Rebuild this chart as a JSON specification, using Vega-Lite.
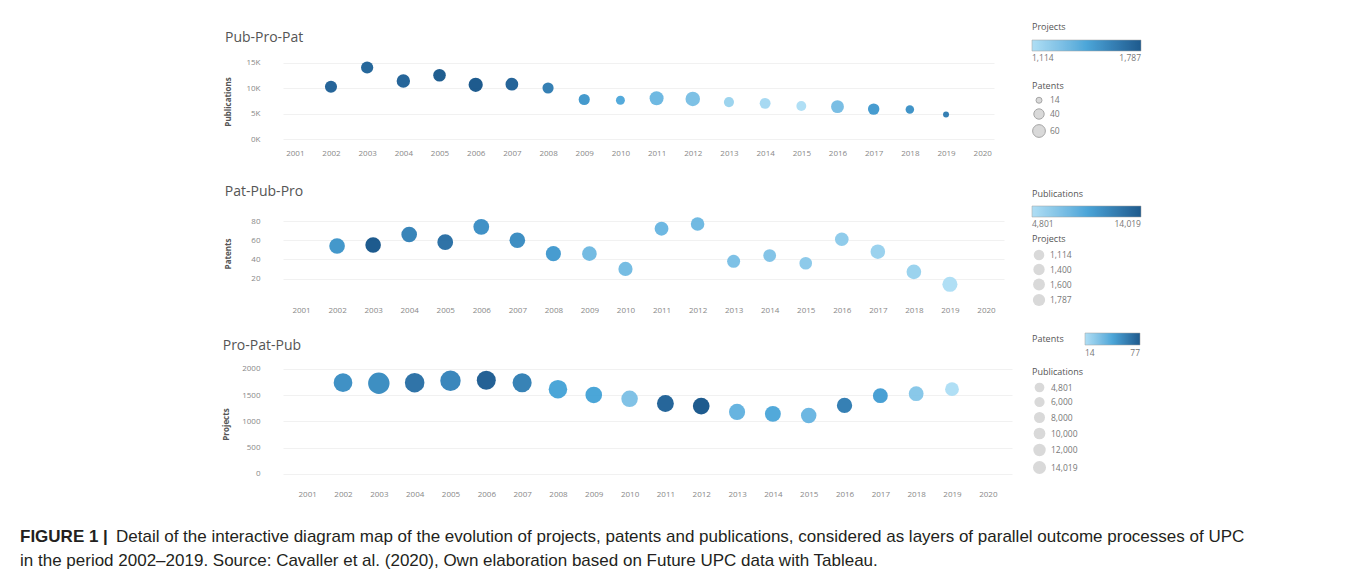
{
  "$schema": "https://vega.github.io/schema/vega-lite/v6.json",
  "padding": {"left": 20, "top": 23, "right": 10, "bottom": 10},
  "background": "white",
  "bounds": "flush",
  "spacing": 58,
  "resolve": {"scale": {"color": "independent", "size": "independent", "x": "independent", "y": "independent"}, "legend": {"color": "independent", "size": "independent"}},
  "datasets": {
    "d": [
      {"year": 2002, "Publications": 10240, "Patents": 54, "Projects": 1739},
      {"year": 2003, "Publications": 14019, "Patents": 55, "Projects": 1728},
      {"year": 2004, "Publications": 11370, "Patents": 66, "Projects": 1739},
      {"year": 2005, "Publications": 12500, "Patents": 58, "Projects": 1776},
      {"year": 2006, "Publications": 10620, "Patents": 74, "Projects": 1787},
      {"year": 2007, "Publications": 10750, "Patents": 60, "Projects": 1739},
      {"year": 2008, "Publications": 10000, "Patents": 46, "Projects": 1616},
      {"year": 2009, "Publications": 7740, "Patents": 46, "Projects": 1505},
      {"year": 2010, "Publications": 7600, "Patents": 30, "Projects": 1431},
      {"year": 2011, "Publications": 7990, "Patents": 72, "Projects": 1343},
      {"year": 2012, "Publications": 7860, "Patents": 77, "Projects": 1293},
      {"year": 2013, "Publications": 7240, "Patents": 38, "Projects": 1182},
      {"year": 2014, "Publications": 6990, "Patents": 44, "Projects": 1145},
      {"year": 2015, "Publications": 6480, "Patents": 36, "Projects": 1114},
      {"year": 2016, "Publications": 6350, "Patents": 61, "Projects": 1306},
      {"year": 2017, "Publications": 5860, "Patents": 48, "Projects": 1492},
      {"year": 2018, "Publications": 5800, "Patents": 27, "Projects": 1530},
      {"year": 2019, "Publications": 4801, "Patents": 14, "Projects": 1616}
    ]
  },
  "title": {
    "text": "FIGURE 1 |",
    "subtitle": [
      "\u2800\u2800\u2800\u2800\u2800\u2800\u2800\u2800Detail of the interactive diagram map of the evolution of projects, patents and publications, considered as layers of parallel outcome processes of UPC",
      "in the period 2002\u20132019. Source: Cavaller et al. (2020), Own elaboration based on Future UPC data with Tableau."
    ],
    "orient": "bottom",
    "anchor": "start",
    "frame": "group",
    "dx": -263,
    "offset": 31,
    "font": "Liberation Sans",
    "fontSize": 17,
    "fontWeight": "bold",
    "color": "#231f20",
    "subtitleFont": "Liberation Sans",
    "subtitleFontSize": 17,
    "subtitleFontWeight": "normal",
    "subtitleColor": "#231f20",
    "subtitlePadding": -17,
    "subtitleLineHeight": 24
  },
  "config": {
    "view": {"stroke": null},
    "font": "Open Sans",
    "axis": {
      "labelFont": "Open Sans",
      "labelFontSize": 8,
      "labelColor": "#888888",
      "ticks": false,
      "domain": false,
      "titleFont": "Open Sans",
      "titleFontSize": 8,
      "titleFontWeight": "bold",
      "titleColor": "#555555"
    },
    "axisX": {"grid": false, "labelAngle": 0, "labelPadding": 3, "title": null},
    "axisY": {"grid": true, "gridColor": "#f1f1f1", "labelPadding": 23},
    "legend": {
      "titleFont": "Open Sans",
      "titleFontSize": 9,
      "titleFontWeight": "normal",
      "titleColor": "#555555",
      "labelFont": "Open Sans",
      "labelFontSize": 8.5,
      "labelColor": "#777777",
      "padding": 0,
      "gradientStrokeColor": "#9a9a9a",
      "gradientStrokeWidth": 0.5,
      "symbolFillColor": "#d9d9d9",
      "symbolStrokeColor": "#a6a6a6",
      "symbolStrokeWidth": 1,
      "symbolOpacity": 1
    }
  },
  "vconcat": [
    {
      "data": {"name": "d"},
      "title": {"text": "Pub-Pro-Pat", "anchor": "start", "frame": "bounds", "fontSize": 14, "fontWeight": "normal", "color": "#555555", "offset": -22, "font": "Open Sans"},
      "width": 711,
      "height": 89,
      "mark": {"type": "circle", "opacity": 0.92},
      "encoding": {
        "x": {"field": "year", "type": "ordinal", "scale": {"domain": [2001,2002,2003,2004,2005,2006,2007,2008,2009,2010,2011,2012,2013,2014,2015,2016,2017,2018,2019,2020], "padding": 0.326}},
        "y": {"field": "Publications", "type": "quantitative", "scale": {"domain": [-1370, 16080], "nice": false, "zero": false}, "axis": {"values": [0, 5000, 10000, 15000], "labelExpr": "format(datum.value/1000, 'd') + 'K'", "title": "Publications", "titlePadding": 13}},
        "color": {"field": "Projects", "type": "quantitative", "scale": {"domain": [1114, 1450.5, 1787], "range": ["#a9dcf4", "#3d9fd6", "#0b4d84"]}, "legend": {"orient": "none", "legendX": 749, "legendY": -34, "direction": "horizontal", "titlePadding": 8, "gradientLength": 109, "gradientThickness": 11, "labelOffset": 3, "values": [1114, 1787], "labelExpr": "format(datum.value, ',')"}},
        "size": {"field": "Patents", "type": "quantitative", "scale": {"domain": [14, 77], "range": [36, 210]}, "legend": {"orient": "none", "legendX": 749, "legendY": 25, "rowPadding": 0, "values": [14, 40, 60]}}
      }
    },
    {
      "data": {"name": "d"},
      "title": {"text": "Pat-Pub-Pro", "anchor": "start", "frame": "bounds", "fontSize": 14, "fontWeight": "normal", "color": "#555555", "offset": -9, "font": "Open Sans"},
      "width": 721,
      "height": 99,
      "encoding": {
        "x": {"field": "year", "type": "ordinal", "scale": {"domain": [2001,2002,2003,2004,2005,2006,2007,2008,2009,2010,2011,2012,2013,2014,2015,2016,2017,2018,2019,2020], "padding": 0.5}},
        "y": {"field": "Patents", "type": "quantitative", "scale": {"domain": [-5.5, 97.8], "nice": false, "zero": false}, "axis": {"values": [20, 40, 60, 80], "title": "Patents", "titlePadding": 18}}
      },
      "layer": [
        {
          "mark": {"type": "circle", "opacity": 0.92},
          "encoding": {
            "color": {"field": "Publications", "type": "quantitative", "scale": {"domain": [4801, 9410, 14019], "range": ["#a9dcf4", "#3d9fd6", "#0b4d84"]}, "legend": {"orient": "none", "legendX": 749, "legendY": -14, "direction": "horizontal", "titlePadding": 7, "gradientLength": 109, "gradientThickness": 11, "labelOffset": 3, "values": [4801, 14019], "labelExpr": "format(datum.value, ',')"}},
            "size": {"field": "Projects", "type": "quantitative", "scale": {"domain": [1114, 1787], "range": [160, 250]}, "legend": null}
          }
        },
        {
          "mark": {"type": "circle", "opacity": 0, "color": "#d9d9d9", "stroke": "#a6a6a6", "strokeWidth": 1},
          "encoding": {
            "size": {"field": "Projects", "type": "quantitative", "scale": {"domain": [1114, 1787], "range": [112, 150]}, "legend": {"orient": "none", "legendX": 749, "legendY": 31, "rowPadding": -2, "values": [1114, 1400, 1600, 1787], "labelExpr": "format(datum.value, ',')"}}
          }
        }
      ],
      "resolve": {"scale": {"size": "independent"}, "legend": {"size": "independent"}}
    },
    {
      "data": {"name": "d"},
      "title": {"text": "Pro-Pat-Pub", "anchor": "start", "frame": "bounds", "fontSize": 14, "fontWeight": "normal", "color": "#555555", "offset": -20, "font": "Open Sans"},
      "width": 729,
      "height": 126,
      "encoding": {
        "x": {"field": "year", "type": "ordinal", "scale": {"domain": [2001,2002,2003,2004,2005,2006,2007,2008,2009,2010,2011,2012,2013,2014,2015,2016,2017,2018,2019,2020], "padding": 0.675}},
        "y": {"field": "Projects", "type": "quantitative", "scale": {"domain": [-248, 2152], "nice": false, "zero": false}, "axis": {"values": [0, 500, 1000, 1500, 2000], "format": "d", "title": "Projects", "titlePadding": 11}}
      },
      "layer": [
        {
          "mark": {"type": "circle", "opacity": 0.92},
          "encoding": {
            "color": {"field": "Patents", "type": "quantitative", "scale": {"domain": [14, 45.5, 77], "range": ["#a9dcf4", "#3d9fd6", "#0b4d84"]}, "legend": {"orient": "none", "legendX": 749, "legendY": -28, "direction": "horizontal", "titleOrient": "left", "titlePadding": 21, "gradientLength": 55, "gradientThickness": 12, "labelOffset": 4, "values": [14, 77]}},
            "size": {"field": "Publications", "type": "quantitative", "scale": {"domain": [4801, 14019], "range": [190, 460]}, "legend": null}
          }
        },
        {
          "mark": {"type": "circle", "opacity": 0, "color": "#d9d9d9", "stroke": "#a6a6a6", "strokeWidth": 1},
          "encoding": {
            "size": {"field": "Publications", "type": "quantitative", "scale": {"domain": [4801, 14019], "range": [95, 170]}, "legend": {"orient": "none", "legendX": 749, "legendY": 7, "rowPadding": -1, "values": [4801, 6000, 8000, 10000, 12000, 14019], "labelExpr": "format(datum.value, ',')"}}
          }
        }
      ],
      "resolve": {"scale": {"size": "independent"}, "legend": {"size": "independent"}}
    }
  ]
}
